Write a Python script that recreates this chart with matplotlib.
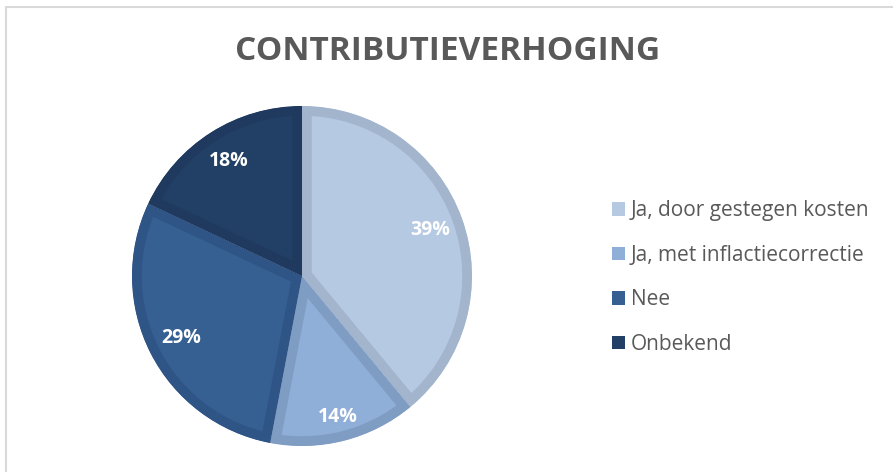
import matplotlib.pyplot as plt
from matplotlib.patches import Rectangle

categories = ["Ja, door gestegen kosten", "Ja, met inflactiecorrectie", "Nee", "Onbekend"]
values = [39, 14, 29, 18]
fill_colors = ["#B5C9E3", "#8FAED8", "#365F92", "#223F65"]
edge_colors = ["#A3B5CC", "#7F9CC3", "#2F5486", "#1F3A5E"]

plt.rcParams['font.family'] = ['Open Sans', 'DejaVu Sans']

fig = plt.figure(figsize=(8.93, 4.72), dpi=100)
W, H = 893, 472

# chart frame (only top and left edges are visible in the crop)
fig.patches.append(Rectangle((6 / W, -0.1), 1.2, 1.1 - 7 / H, transform=fig.transFigure,
                             fill=False, edgecolor="#D9D9D9", linewidth=1.5))

# pie area in pixels: left 132, right 472, top 106, bottom 446
ax = fig.add_axes([132 / W, 1 - 446 / H, 340 / W, 340 / H])
wedges, texts, autotexts = ax.pie(values, colors=fill_colors, startangle=90, counterclock=False,
                                  radius=1, autopct='%1.0f%%', pctdistance=0.8,
                                  textprops=dict(color='white', fontsize=14, fontweight='bold'))
# inner border band: thick edge clipped to the wedge itself
for w, ec in zip(wedges, edge_colors):
    w.set_edgecolor(ec)
    w.set_linewidth(14)
    w.set_clip_on(True)
    w.set_clip_path(w)

# nudge the small slice label outward a bit, like Excel does
x, y = autotexts[1].get_position()
autotexts[1].set_position((x * 1.07, y * 1.07))

ax.set_xlim(-1, 1)
ax.set_ylim(-1, 1)
ax.set_aspect('equal')
ax.axis('off')

fig.text(448 / W, 1 - 52 / H, "CONTRIBUTIEVERHOGING", ha='center', va='center',
         fontsize=24, fontweight='bold', color='#595959')

leg = fig.legend(wedges, categories, loc='upper left', bbox_to_anchor=(604 / W, 1 - 192 / H),
                 frameon=False, fontsize=15, labelcolor='#595959', handlelength=0.6,
                 handleheight=0.6, handletextpad=0.3, labelspacing=1.13, borderaxespad=0)
for h, c in zip(leg.legend_handles, fill_colors):
    h.set_edgecolor(c)
    h.set_linewidth(0)
    h.set_clip_path(None)

fig.savefig("out.png", dpi=100)
